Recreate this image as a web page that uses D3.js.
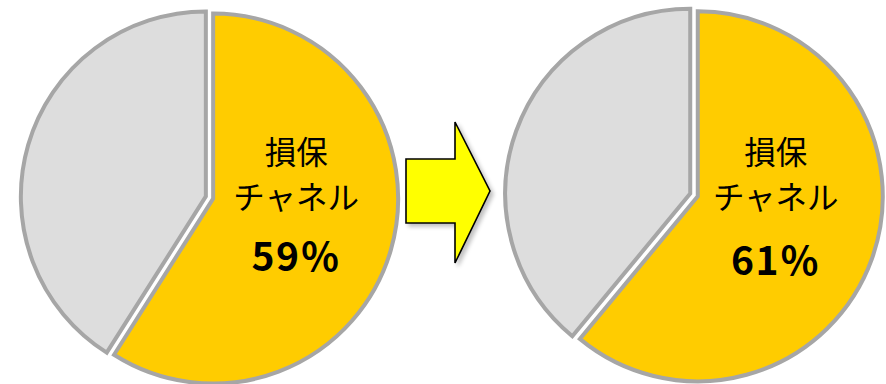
<!DOCTYPE html>
<html>
<head>
<meta charset="utf-8">
<script src="https://cdn.jsdelivr.net/npm/d3@7"></script>
<style>
  html, body { margin: 0; padding: 0; background: #fff; }
  svg { display: block; }
  text { font-family: "Noto Sans CJK JP", "Noto Sans", sans-serif; fill: #000; }
</style>
</head>
<body>
<div id="chart"></div>
<script>
// values
const categories = ['損保チャネル', 'その他']
const beforeValues = [59, 41]
const afterValues = [61, 39]
const labelLines = ['損保', 'チャネル']
const colors = ['#ffcc00', '#dddddd']

const width = 886
const height = 384

const svg = d3
  .select('#chart')
  .append('svg')
  .attr('width', width)
  .attr('height', height)

// soft shadow for the arrow
const defs = svg.append('defs')
const shadow = defs.append('filter').attr('id', 'shadow')
  .attr('x', '-20%').attr('y', '-20%').attr('width', '150%').attr('height', '150%')
shadow.append('feGaussianBlur').attr('in', 'SourceAlpha').attr('stdDeviation', 2)
shadow.append('feOffset').attr('dx', 3).attr('dy', 3).attr('result', 'blur')
shadow.append('feComponentTransfer').append('feFuncA').attr('type', 'linear').attr('slope', 0.25)
const merge = shadow.append('feMerge')
merge.append('feMergeNode')
merge.append('feMergeNode').attr('in', 'SourceGraphic')

const radius = 185
const pie = d3.pie().sort(null).value((d) => d)
const arc = d3.arc().innerRadius(0).outerRadius(radius)

const drawPie = (values, cx, cy, explode, labelDx, labelDy, pctDy) => {
  const g = svg.append('g').attr('transform', `translate(${cx},${cy})`)
  const arcs = pie(values)

  g.selectAll('path')
    .data(arcs)
    .enter()
    .append('path')
    .attr('d', arc)
    .attr('fill', (d, i) => colors[i])
    .attr('stroke', '#a6a6a6')
    .attr('stroke-width', 4)
    .attr('stroke-linejoin', 'miter')
    .attr('transform', (d) => {
      const mid = (d.startAngle + d.endAngle) / 2
      return `translate(${Math.sin(mid) * explode},${-Math.cos(mid) * explode})`
    })

  const main = arcs[0]
  const mid = (main.startAngle + main.endAngle) / 2
  const ox = Math.sin(mid) * explode + labelDx
  const oy = -Math.cos(mid) * explode

  // two-line category label
  g.selectAll('text.name')
    .data(labelLines)
    .enter()
    .append('text')
    .attr('class', 'name')
    .attr('x', ox)
    .attr('y', (d, i) => oy + labelDy + i * 45)
    .attr('text-anchor', 'middle')
    .attr('dominant-baseline', 'central')
    .style('font-size', '31.5px')
    .text((d) => d)

  g.append('text')
    .attr('x', ox)
    .attr('y', oy + pctDy)
    .attr('text-anchor', 'middle')
    .attr('dominant-baseline', 'central')
    .style('font-size', '39px')
    .style('font-weight', 'bold')
    .style('letter-spacing', '1.5px')
    .text(`${values[0]}％`)
}

drawPie(beforeValues, 209.5, 197.5, 3.8, 83, -49, 55)
drawPie(afterValues, 694, 195, 4, 78, -46, 62)

// block arrow between the two pies
const arrowPts = [
  [406, 159], [455, 159], [455, 122], [490, 191],
  [455, 263], [455, 223], [406, 223],
]
svg.append('path')
  .attr('d', d3.line()(arrowPts) + 'Z')
  .attr('fill', '#ffff00')
  .attr('stroke', '#000')
  .attr('stroke-width', 1.6)
  .attr('stroke-linejoin', 'miter')
  .attr('filter', 'url(#shadow)')
</script>
</body>
</html>
